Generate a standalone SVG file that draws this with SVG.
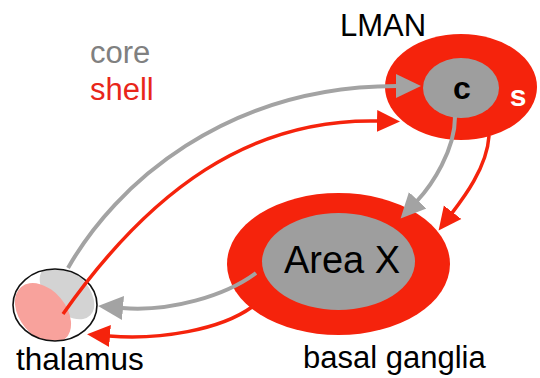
<svg xmlns="http://www.w3.org/2000/svg" width="540" height="378" viewBox="0 0 540 378">
  <style>
    .lbl { font-family: "Liberation Sans", Arial, sans-serif; }
    .red { fill: #f5230c; }
    .core { fill: #9e9e9e; }
    .cg { fill: none; stroke: #a3a3a3; stroke-width: 4; }
    .cr { fill: none; stroke: #f5230c; stroke-width: 3.5; }
  </style>
  <defs>
    <marker id="ahg" markerUnits="userSpaceOnUse" markerWidth="26" markerHeight="26" viewBox="0 0 26 26" refX="1" refY="13" orient="auto">
      <path d="M0,1 L25,13 L0,25 z" fill="#a3a3a3"/>
    </marker>
    <marker id="ahr" markerUnits="userSpaceOnUse" markerWidth="26" markerHeight="26" viewBox="0 0 26 26" refX="1" refY="13" orient="auto">
      <path d="M0,2 L23,13 L0,24 z" fill="#f5230c"/>
    </marker>
    <clipPath id="thclip">
      <ellipse cx="55" cy="305" rx="42" ry="36"/>
    </clipPath>
  </defs>
  <rect width="540" height="378" fill="#ffffff"/>

  <g id="legend">
    <text class="lbl" x="90" y="63" font-size="31" fill="#808080">core</text>
    <text class="lbl" x="90" y="100" font-size="31" fill="#e8261a">shell</text>
  </g>

  <g id="lman">
    <ellipse class="red" cx="461" cy="87" rx="76" ry="53"/>
    <ellipse class="core" cx="461" cy="88" rx="38" ry="30"/>
    <text class="lbl" x="462" y="99" font-size="32" font-weight="bold" text-anchor="middle" fill="#000000">c</text>
    <text class="lbl" x="518" y="106" font-size="30" font-weight="bold" text-anchor="middle" fill="#ffffff">s</text>
    <text class="lbl" x="383" y="36" font-size="31" text-anchor="middle" fill="#000000">LMAN</text>
  </g>

  <g id="areax">
    <ellipse class="red" cx="338.5" cy="264" rx="111.5" ry="71"/>
    <ellipse class="core" cx="338.5" cy="261.5" rx="76.5" ry="48.5"/>
    <text class="lbl" x="342" y="273" font-size="38" text-anchor="middle" fill="#000000">Area X</text>
    <text class="lbl" x="303" y="368" font-size="31" fill="#000000">basal ganglia</text>
  </g>

  <g id="thalamus">
    <ellipse cx="55" cy="305" rx="42" ry="36" fill="#ffffff"/>
    <g clip-path="url(#thclip)">
      <ellipse cx="67" cy="292" rx="33" ry="20" fill="#d3d3d3" transform="rotate(45 67 292)"/>
      <ellipse cx="43" cy="313" rx="34" ry="23" fill="#f8a29c" transform="rotate(50 43 313)"/>
    </g>
    <ellipse cx="55" cy="305" rx="42" ry="36" fill="none" stroke="#111111" stroke-width="1.6"/>
    <text class="lbl" x="16" y="370" font-size="31.5" fill="#000000">thalamus</text>
  </g>

  <g id="connectors">
    <path class="cg" d="M68,268 C115,185 225,86 397,86" marker-end="url(#ahg)"/>
    <path class="cr" d="M63,314 C150,190 250,118 378,121" marker-end="url(#ahr)"/>
    <path class="cg" d="M455,117 C455,150 432,185 417,201" marker-end="url(#ahg)"/>
    <path class="cr" d="M489,136 C487,168 462,200 452,213" marker-end="url(#ahr)"/>
    <path class="cg" d="M256,273 C225,296 170,312 122,308" marker-end="url(#ahg)"/>
    <path class="cr" d="M252,307 C220,330 160,340 109,336" marker-end="url(#ahr)"/>
  </g>
</svg>
